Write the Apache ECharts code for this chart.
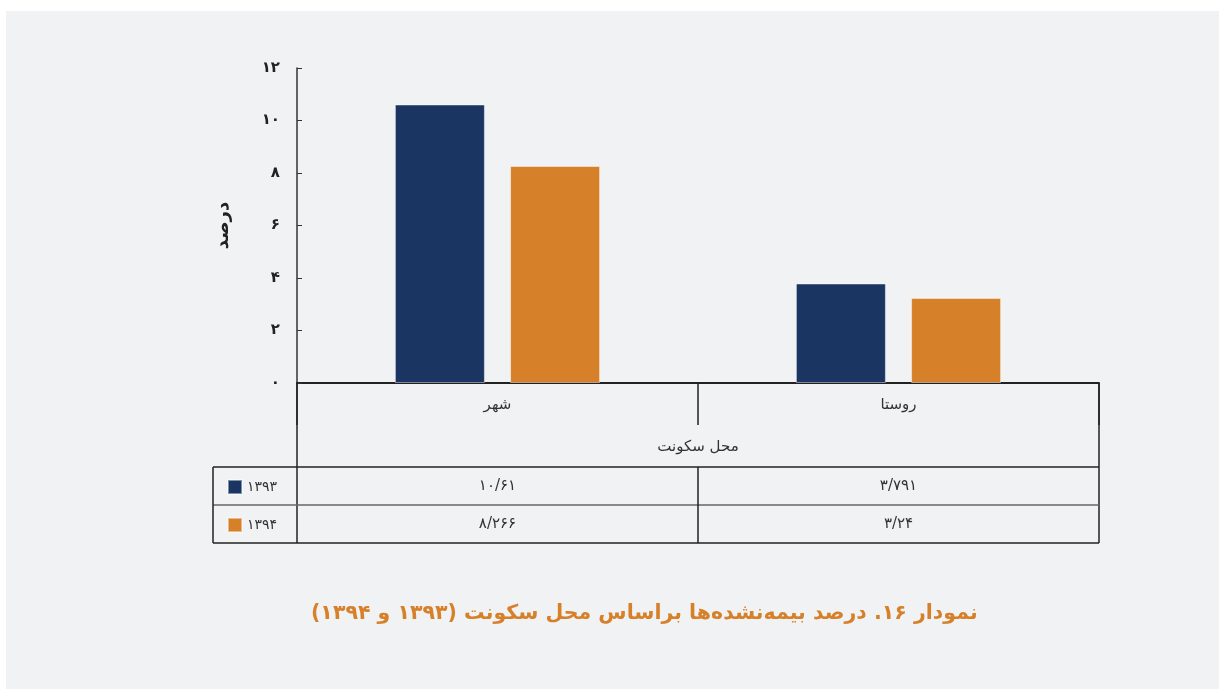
<!DOCTYPE html>
<html>
<head>
<meta charset="utf-8">
<script src="https://cdn.jsdelivr.net/npm/echarts@6/dist/echarts.min.js"></script>
<style>
  html, body { margin: 0; padding: 0; background: #ffffff; }
  #frame { position: absolute; left: 6px; top: 11px; width: 1213px; height: 678px; background: #f1f2f4; }
  #main { position: absolute; left: 0; top: 0; width: 1221px; height: 689px; }
</style>
</head>
<body>
<div id="frame"></div>
<div id="main"></div>
<script>
    // data
    var places = ['شهر', 'روستا'];
    var years = [1393, 1394];
    var values1393 = [10.61, 3.791];
    var values1394 = [8.266, 3.24];
    var colors = ['#1b3563', '#d7802a'];

    var FONT = '"DejaVu Sans", sans-serif';

    // latin digits -> persian digits, '.' -> '/'
    function fa(v) {
        var map = '۰۱۲۳۴۵۶۷۸۹';
        return String(v).replace('.', '/').replace(/[0-9]/g, function (d) { return map[+d]; });
    }

    var chartDom = document.getElementById('main');
    var myChart = echarts.init(chartDom);

    var seriesData = [values1393, values1394];

    var option = {
        backgroundColor: 'transparent',
        animation: false,
        textStyle: { fontFamily: FONT },
        title: {
            text: 'نمودار ۱۶. درصد بیمه‌نشده‌ها براساس محل سکونت (۱۳۹۳ و ۱۳۹۴)',
            left: 306,
            top: 598,
            textStyle: { fontFamily: FONT, fontSize: 20.5, fontWeight: 'bold', color: '#d7802a' }
        },
        legend: {
            orient: 'vertical',
            left: 222,
            top: 474,
            itemWidth: 14,
            itemHeight: 14,
            itemGap: 22,
            icon: 'rect',
            selectedMode: false,
            textStyle: { fontFamily: FONT, fontSize: 14, color: '#333' },
            data: years.map(fa)
        },
        grid: {
            left: 297,
            right: 122,
            top: 68,
            bottom: 306
        },
        xAxis: {
            type: 'category',
            data: places,
            boundaryGap: true,
            axisLine: { lineStyle: { color: '#222', width: 2 } },
            axisTick: { show: true, length: 42, lineStyle: { color: '#222', width: 1.5 } },
            axisLabel: { margin: 15, fontFamily: FONT, fontSize: 15, color: '#333' },
            name: 'محل سکونت',
            nameLocation: 'middle',
            nameGap: 57,
            nameTextStyle: { fontFamily: FONT, fontSize: 15, color: '#333' }
        },
        yAxis: {
            type: 'value',
            min: 0,
            max: 12,
            interval: 2,
            splitLine: { show: false },
            axisLine: { show: true, lineStyle: { color: '#333', width: 1.5 } },
            axisTick: { show: true, inside: true, length: 5, lineStyle: { color: '#333' } },
            axisLabel: {
                margin: 17,
                fontFamily: FONT, fontSize: 15, fontWeight: 'bold', color: '#222',
                formatter: function (v) { return fa(v); }
            },
            name: 'درصد',
            nameLocation: 'middle',
            nameGap: 65,
            nameTextStyle: { fontFamily: FONT, fontSize: 18, fontWeight: 'bold', color: '#222' }
        },
        series: years.map(function (y, i) {
            return {
                name: fa(y),
                type: 'bar',
                barWidth: 90,
                barGap: '28%',
                itemStyle: { color: colors[i], borderColor: 'rgba(255,255,255,0.45)', borderWidth: 1 },
                data: seriesData[i]
            };
        })
    };

    myChart.setOption(option);

    // table under the chart: lines and value cells
    function buildTable() {
        var xL = 297, xR = 1099, xLeg = 213;
        var yAxisY = 383, yRow1 = 467, yRow2 = 505, yRow3 = 543;
        var xMid = (myChart.convertToPixel({ xAxisIndex: 0 }, 0) + myChart.convertToPixel({ xAxisIndex: 0 }, 1)) / 2;
        var dark = { stroke: '#222', lineWidth: 1.5 };
        var grey = { stroke: '#666', lineWidth: 1.5 };
        function line(x1, y1, x2, y2, st) {
            return { type: 'line', shape: { x1: x1, y1: y1, x2: x2, y2: y2 }, style: st, silent: true };
        }
        var els = [
            line(xL, yAxisY, xL, yRow3, dark),
            line(xR, yAxisY, xR, yRow3, dark),
            line(xLeg, yRow1, xR, yRow1, dark),
            line(xLeg, yRow2, xR, yRow2, grey),
            line(xLeg, yRow3, xR, yRow3, dark),
            line(xLeg, yRow1, xLeg, yRow3, dark),
            line(xMid, yRow1, xMid, yRow3, dark)
        ];
        var rowsY = [(yRow1 + yRow2) / 2, (yRow2 + yRow3) / 2];
        seriesData.forEach(function (vals, r) {
            vals.forEach(function (v, c) {
                els.push({
                    type: 'text',
                    x: myChart.convertToPixel({ xAxisIndex: 0 }, c),
                    y: rowsY[r],
                    silent: true,
                    style: {
                        text: fa(v),
                        fontFamily: FONT,
                        fontSize: 15,
                        fill: '#333',
                        align: 'center',
                        verticalAlign: 'middle'
                    }
                });
            });
        });
        myChart.setOption({ graphic: els });
    }
    buildTable();
</script>
</body>
</html>
